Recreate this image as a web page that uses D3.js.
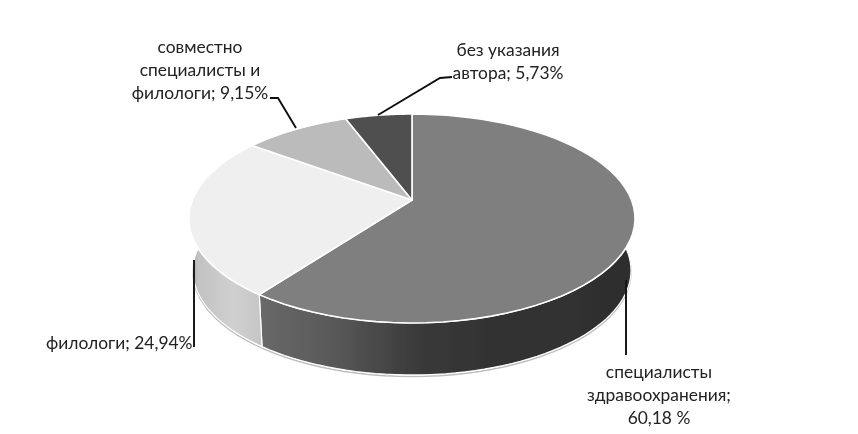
<!DOCTYPE html>
<html><head><meta charset="utf-8">
<script src="https://cdn.jsdelivr.net/npm/d3@7"></script>
<style>html,body{margin:0;padding:0;background:#fff}svg{display:block}text{font-family:Lato,"Open Sans",sans-serif;font-size:17.4px;fill:#222}</style>
</head><body><svg width="858" height="434"></svg>
<script>
const categories = ["специалисты здравоохранения","филологи","совместно специалисты и филологи","без указания автора"];
const values = [60.18,24.94,9.15,5.73];
const topColors = ["#7f7f7f","#efefef","#bbbbbb","#4f4f4f"];
const labelLines = [
  ["специалисты","здравоохранения;","60,18 %"],
  ["филологи; 24,94%"],
  ["совместно","специалисты и","филологи; 9,15%"],
  ["без указания","автора; 5,73%"]
];
const labelPos = [[659,378,"middle"],[46,349,"start"],[200,53,"middle"],[508,56,"middle"]];
const leaders = [
  [[626,280],[626,355]],
  [[194,260],[194,347]],
  [[296,128],[278,98],[270,98]],
  [[378,115],[440,78],[452,77]]
];
const cx=412, cy=200, A=101.2, B=219.5, k=-0.177, depth=52, shrink=0.982;
const svg=d3.select("svg");
const defs=svg.append("defs");
const g1=defs.append("linearGradient").attr("id","wallDark").attr("gradientUnits","userSpaceOnUse")
  .attr("x1",262).attr("x2",632).attr("y1",0).attr("y2",0);
[[0,"#686868"],[0.2,"#585858"],[0.42,"#3a3a3a"],[0.6,"#333333"],[1,"#2e2e2e"]].forEach(s=>g1.append("stop").attr("offset",s[0]).attr("stop-color",s[1]));
const g2=defs.append("linearGradient").attr("id","wallLight").attr("gradientUnits","userSpaceOnUse")
  .attr("x1",190).attr("x2",262).attr("y1",0).attr("y2",0);
[[0,"#a8a8a8"],[0.12,"#c2c2c2"],[0.6,"#d0d0d0"],[1,"#c6c6c6"]].forEach(s=>g2.append("stop").attr("offset",s[0]).attr("stop-color",s[1]));
const blur=defs.append("filter").attr("id","soft").attr("x","-5%").attr("y","-5%").attr("width","110%").attr("height","115%");
blur.append("feGaussianBlur").attr("stdDeviation",0.45);

const pie=d3.pie().sort(null).startAngle(0).endAngle(2*Math.PI);
const arcs=pie(values);
const sx=d3.scaleLinear().domain([-1,1]).range([-B,B]);
const sy=d3.scaleLinear().domain([-1,1]).range([-A,A]);
function proj(a,r=1,low=false){
  const u=r*Math.sin(a), v=-r*Math.cos(a), d=1+k*v;
  const x=sx(u)/d, y=sy(v)/d;
  return low ? [cx+x*shrink, cy+y+depth] : [cx+x, cy+y];
}
const line=d3.line();
const samples=(a0,a1,low)=>d3.range(0,61).map(i=>proj(a0+(a1-a0)*i/60,1,low));
const root=svg.append("g").attr("filter","url(#soft)");

const ext=samples(Math.PI*0.5,Math.PI*1.5,true);
root.append("path").attr("d",line(ext.map(p=>[p[0],p[1]+1.5]))).attr("fill","none").attr("stroke","#bdbdbd").attr("stroke-width",1.5);

const vis0=Math.PI*0.47, vis1=Math.PI*1.55;
const wallFill=["url(#wallDark)","url(#wallLight)"];
arcs.slice(0,2).forEach((d,i)=>{
  const a0=Math.max(d.startAngle,vis0), a1=Math.min(d.endAngle,vis1);
  root.append("path")
    .attr("d",line(samples(a0,a1,false).concat(samples(a0,a1,true).reverse()))+"Z")
    .attr("fill",wallFill[i]).attr("stroke","#fff").attr("stroke-width",1.2).attr("stroke-linejoin","round");
});

root.selectAll("path.top").data(arcs).join("path").attr("class","top")
  .attr("d",d=>line([proj(0,0)].concat(samples(d.startAngle,d.endAngle,false)))+"Z")
  .attr("fill",(d,i)=>topColors[i]).attr("stroke","#fff").attr("stroke-width",1.6).attr("stroke-linejoin","round");

root.selectAll("path.leader").data(leaders).join("path").attr("class","leader")
  .attr("d",d=>line(d)).attr("fill","none").attr("stroke","#111").attr("stroke-width",1.9);

const lab=root.selectAll("text").data(labelLines).join("text")
  .attr("transform",(d,i)=>`translate(${labelPos[i][0]},${labelPos[i][1]})`)
  .attr("text-anchor",(d,i)=>labelPos[i][2]);
lab.selectAll("tspan").data(d=>d).join("tspan").attr("x",0).attr("dy",(d,i)=>i?"23":"0").text(d=>d);
</script></body></html>
